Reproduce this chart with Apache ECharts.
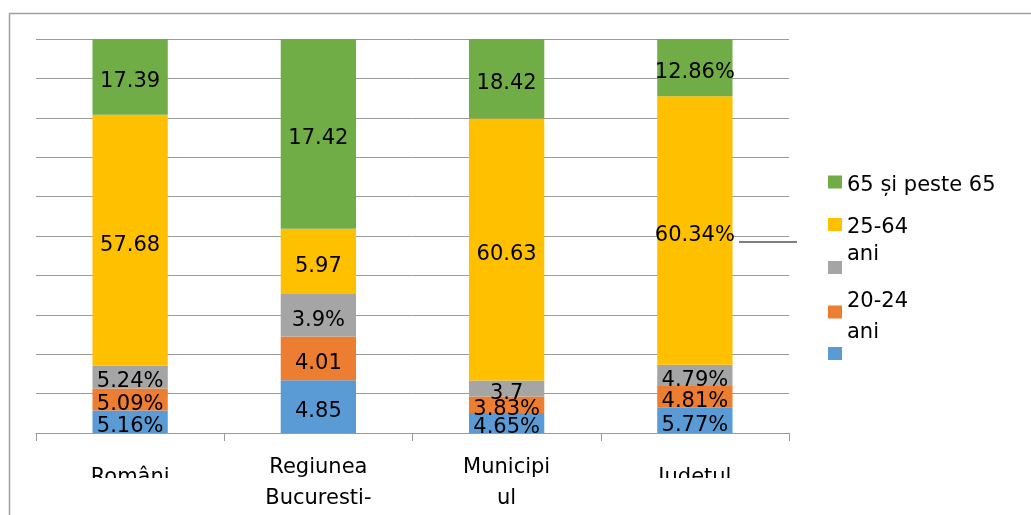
<!DOCTYPE html>
<html>
<head>
<meta charset="utf-8">
<script src="https://cdn.jsdelivr.net/npm/echarts@6/dist/echarts.min.js"></script>
<style>
  html, body { margin: 0; padding: 0; background: #fff; }
  #chart { width: 1031px; height: 515px; }
</style>
</head>
<body>
<div id="chart"></div>
<script>
// categories (x axis)
const categories = ['Români', 'Regiunea\nBucuresti-', 'Municipi\nul', 'Judetul']

// raw values as printed on the bars, bottom segment first
const blueVals = [5.16, 4.85, 4.65, 5.77]
const orangeVals = [5.09, 4.01, 3.83, 4.81]
const grayVals = [5.24, 3.9, 3.7, 4.79]
const yellowVals = [57.68, 5.97, 60.63, 60.34]
const greenVals = [17.39, 17.42, 18.42, 12.86]

// which labels carry a % sign in the original
const bluePct = [true, false, true, true]
const orangePct = [true, false, true, true]
const grayPct = [true, true, false, true]
const yellowPct = [false, false, false, true]
const greenPct = [false, false, false, true]

const yTicks = [0, 10, 20, 30, 40, 50, 60, 70, 80, 90, 100]

const FONT = 'DejaVu Sans'
const FS = 21

const groups = [
  { name: '0-19 ani', vals: blueVals, pct: bluePct, color: '#5B9BD5', legend: [] },
  { name: '20-24 ani', vals: orangeVals, pct: orangePct, color: '#ED7D31', legend: ['20-24', 'ani'] },
  { name: 'alte grupe', vals: grayVals, pct: grayPct, color: '#A5A5A5', legend: [] },
  { name: '25-64 ani', vals: yellowVals, pct: yellowPct, color: '#FFC000', legend: ['25-64', 'ani'] },
  { name: '65 și peste 65', vals: greenVals, pct: greenPct, color: '#70AD47', legend: ['65 și peste 65'] },
]

// 100% stacked: every column is scaled to its own total
const totals = categories.map((_, i) => groups.reduce((s, g) => s + g.vals[i], 0))

const series = groups.map((g) => ({
  name: g.name,
  type: 'bar',
  stack: 'total',
  barWidth: '40%',
  itemStyle: { color: g.color },
  data: g.vals.map((v, i) => ({ value: (v / totals[i]) * 100, raw: v, pct: g.pct[i] })),
  label: {
    show: true,
    position: 'inside',
    offset: [0, 5],
    color: '#000',
    fontFamily: FONT,
    fontSize: FS,
    formatter: (p) => String(p.data.raw) + (p.data.pct ? '%' : ''),
  },
}))

// one legend block per entry, to keep the uneven spacing of the original
// gap = height of an empty first line that pushes the text down
const legendLayout = {
  '65 și peste 65': { top: 166, lh: 28, gap: 7 },
  '25-64 ani': { top: 195.5, lh: 27, gap: 34 },
  'alte grupe': { top: 257, lh: 28, gap: 0 },
  '20-24 ani': { top: 279, lh: 31, gap: 11 },
  '0-19 ani': { top: 343, lh: 28, gap: 0 },
}

const legends = groups.slice().reverse().map((g) => {
  const lay = legendLayout[g.name]
  const lines = g.legend.length ? g.legend.map((t) => '{t|' + t + '}') : ['{t| }']
  const text = (lay.gap ? '{gap| }\n' : '') + lines.join('\n')
  return {
    data: [g.name],
    left: 828,
    top: lay.top,
    padding: 0,
    itemWidth: 14,
    itemHeight: 13,
    itemGap: 0,
    icon: 'rect',
    selectedMode: false,
    formatter: () => text,
    textStyle: {
      color: '#000',
      fontFamily: FONT,
      fontSize: FS,
      rich: {
        t: { color: '#000', fontFamily: FONT, fontSize: FS, lineHeight: lay.lh },
        gap: { fontSize: 4, lineHeight: lay.gap || 1 },
      },
    },
  }
})

const chart = echarts.init(document.getElementById('chart'))
chart.setOption({
  animation: false,
  backgroundColor: '#fff',
  grid: { left: 36, right: 242, top: 39, bottom: 82 },
  legend: legends,
  xAxis: {
    type: 'category',
    data: categories,
    axisLine: { lineStyle: { color: '#9a9a9a', width: 1 } },
    axisTick: { show: true, length: 8, lineStyle: { color: '#9a9a9a' } },
    axisLabel: {
      margin: 19,
      color: '#000',
      fontFamily: FONT,
      fontSize: FS,
      lineHeight: 31,
      formatter: (v) => (v.indexOf('\n') < 0 ? '{s|' + v + '}' : v),
      rich: {
        s: { fontFamily: FONT, fontSize: FS, color: '#000', lineHeight: 52 },
      },
    },
  },
  yAxis: {
    type: 'value',
    min: yTicks[0],
    max: yTicks[yTicks.length - 1],
    interval: yTicks[1] - yTicks[0],
    axisLabel: { show: false },
    axisLine: { show: false },
    axisTick: { show: false },
    splitLine: { lineStyle: { color: '#9a9a9a', width: 1 } },
  },
  series: series,
  graphic: [
    // outer frame (only top and left edges are visible)
    {
      type: 'rect',
      shape: { x: 9.5, y: 13.5, width: 1100, height: 600 },
      style: { fill: 'none', stroke: '#a0a0a0', lineWidth: 1.5 },
      silent: true,
    },
    // stray leader line next to the legend
    {
      type: 'line',
      shape: { x1: 739, y1: 242, x2: 797, y2: 242 },
      style: { stroke: '#808080', lineWidth: 2 },
      silent: true,
    },
    // the original cuts off the one-line category labels
    {
      type: 'rect',
      shape: { x: 60, y: 478, width: 140, height: 40 },
      style: { fill: '#fff' },
      z: 100,
      silent: true,
    },
    {
      type: 'rect',
      shape: { x: 625, y: 478, width: 140, height: 40 },
      style: { fill: '#fff' },
      z: 100,
      silent: true,
    },
  ],
})
</script>
</body>
</html>
